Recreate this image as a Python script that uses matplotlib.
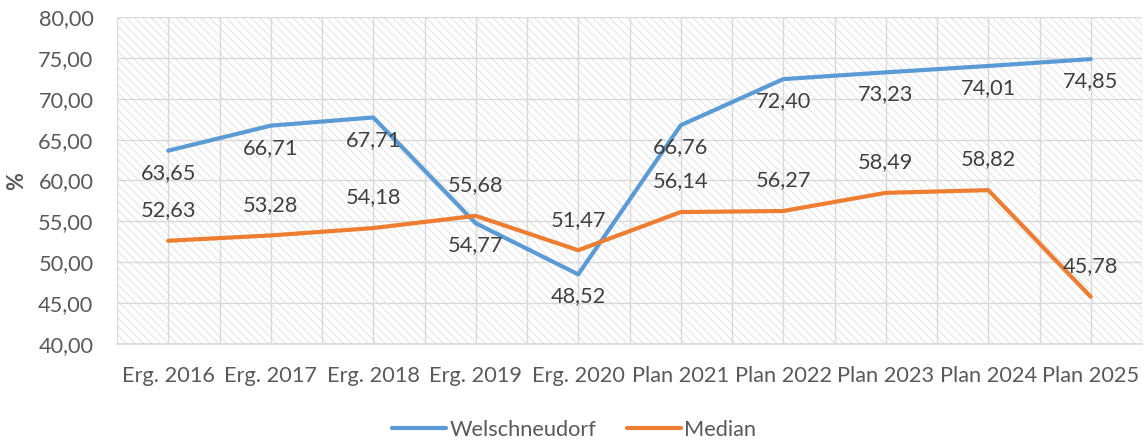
import numpy as np
import matplotlib
matplotlib.use("Agg")
import matplotlib.pyplot as plt

# Werte aus dem Diagramm
kategorien = ["Erg. 2016", "Erg. 2017", "Erg. 2018", "Erg. 2019", "Erg. 2020",
              "Plan 2021", "Plan 2022", "Plan 2023", "Plan 2024", "Plan 2025"]
welschneudorf = [63.65, 66.71, 67.71, 54.77, 48.52, 66.76, 72.40, 73.23, 74.01, 74.85]
median = [52.63, 53.28, 54.18, 55.68, 51.47, 56.14, 56.27, 58.49, 58.82, 45.78]
y_ticks = [40, 45, 50, 55, 60, 65, 70, 75, 80]

BLAU = "#5B9BD5"
ORANGE = "#ED7D31"
GRAU_TEXT = "#595959"
GRAU_LABEL = "#404040"
GRAU_GRID = "#d9d9d9"
FS = 15.7

plt.rcParams["font.family"] = ["Lato", "DejaVu Sans"]
plt.rcParams["hatch.color"] = "#e2e2e2"
plt.rcParams["hatch.linewidth"] = 0.7

def fmt(v):
    return f"{v:.2f}".replace(".", ",")

fig = plt.figure(figsize=(11.48, 4.41), dpi=100)
ax = fig.add_axes([117 / 1148, 97 / 441, 1025 / 1148, 327 / 441])

x = np.arange(len(kategorien))

# schraffierter Hintergrund
ax.patch.set_facecolor("white")
ax.patch.set_hatch("\\\\\\\\")
ax.patch.set_edgecolor("#e2e2e2")
ax.patch.set_linewidth(0)

ax.plot(x, welschneudorf, color=BLAU, lw=3.0, solid_capstyle="round",
        solid_joinstyle="round", label="Welschneudorf", zorder=3)
ax.plot(x, median, color=ORANGE, lw=3.0, solid_capstyle="round",
        solid_joinstyle="round", label="Median", zorder=3)

for xi, v in zip(x, welschneudorf):
    ax.annotate(fmt(v), (xi, v), xytext=(0, -16), textcoords="offset points",
                ha="center", va="center", fontsize=FS, color=GRAU_LABEL, zorder=4)
for xi, v in zip(x, median):
    ax.annotate(fmt(v), (xi, v), xytext=(0, 22), textcoords="offset points",
                ha="center", va="center", fontsize=FS, color=GRAU_LABEL, zorder=4)

ax.set_xlim(-0.5, len(kategorien) - 0.5)
ax.set_ylim(40, 80)
ax.set_yticks(y_ticks)
ax.set_yticklabels([fmt(v) for v in y_ticks])
ax.set_xticks(x)
ax.set_xticklabels(kategorien)
ax.set_xticks(np.arange(-0.5, len(kategorien), 1.0), minor=True)

ax.tick_params(axis="both", which="both", length=0, labelsize=FS, labelcolor=GRAU_TEXT)
ax.tick_params(axis="x", pad=16)
ax.tick_params(axis="y", pad=17)

ax.grid(axis="y", which="major", color=GRAU_GRID, lw=1.0)
ax.grid(axis="x", which="both", color=GRAU_GRID, lw=1.0)
ax.set_axisbelow(True)

for s in ["top", "right", "left"]:
    ax.spines[s].set_visible(False)
ax.spines["bottom"].set_color(GRAU_GRID)
ax.spines["bottom"].set_linewidth(1.2)

fig.text(17 / 1148, 1 - 181 / 441, "%", rotation=90, ha="center", va="center",
         fontsize=FS, color=GRAU_TEXT, fontweight="bold")

fig.legend(loc="center", bbox_to_anchor=(0.5, 11 / 441), ncol=2, frameon=False,
           fontsize=FS, labelcolor=GRAU_TEXT, handlelength=2.5, columnspacing=1.4,
           handletextpad=0.15)

fig.savefig("out.png", dpi=100)
